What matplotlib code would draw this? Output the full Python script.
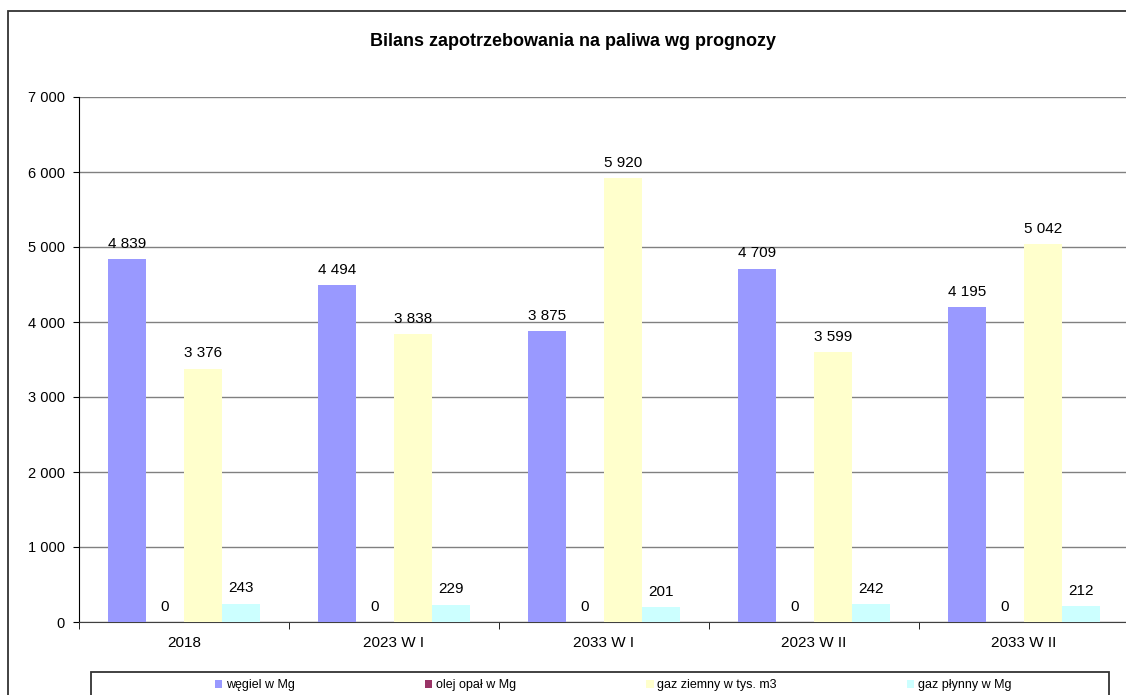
import numpy as np
import matplotlib.pyplot as plt
from matplotlib.patches import Rectangle
from matplotlib.ticker import FuncFormatter

plt.rcParams['font.family'] = ['Liberation Sans', 'DejaVu Sans']

# dane
kategorie = ['2018', '2023 W I', '2033 W I', '2023 W II', '2033 W II']
serie = ['węgiel w Mg', 'olej opał w Mg', 'gaz ziemny w tys. m3', 'gaz płynny w Mg']
wegiel = [4839, 4494, 3875, 4709, 4195]
olej = [0, 0, 0, 0, 0]
gaz_ziemny = [3376, 3838, 5920, 3599, 5042]
gaz_plynny = [243, 229, 201, 242, 212]
kolory = ['#9999FF', '#993366', '#FFFFCC', '#CCFFFF']

def fmt(v, pos=None):
    return f'{int(v):,}'.replace(',', ' ')

fig = plt.figure(figsize=(11.26, 6.95), dpi=100)
ax = fig.add_axes([79/1126, 1-622/695, 1050/1126, 525/695])

x = np.arange(len(kategorie))
w = 0.182
for i, (dane, nazwa, kol) in enumerate(zip([wegiel, olej, gaz_ziemny, gaz_plynny], serie, kolory)):
    b = ax.bar(x + (i - 1.5)*w, dane, w, color=kol, label=nazwa, zorder=3)
    ax.bar_label(b, labels=[fmt(v) for v in dane], padding=6, fontsize=11)

ax.set_xlim(-0.5, 4.5)
ax.set_ylim(0, 7000)
ax.set_yticks(range(0, 7001, 1000))
ax.yaxis.set_major_formatter(FuncFormatter(fmt))
ax.set_xticks(x)
ax.set_xticklabels(kategorie)
ax.set_xticks(np.arange(-0.5, 5, 1), minor=True)
ax.tick_params(axis='x', which='major', length=0, pad=10, labelsize=11)
ax.tick_params(axis='x', which='minor', length=5, direction='out', color='black')
ax.tick_params(axis='y', length=4, direction='out', pad=6, labelsize=10.5)
ax.grid(axis='y', color='#808080', linewidth=1, zorder=0)
for s in ['top', 'right']:
    ax.spines[s].set_visible(False)
ax.spines['left'].set_color('black')
ax.spines['bottom'].set_color('#404040')

fig.text(573/1126, 1-42/695, 'Bilans zapotrzebowania na paliwa wg prognozy',
         ha='center', va='center', fontsize=13, fontweight='bold')

# ramki
fig.patches.append(Rectangle((8/1126, -0.05), 1.2, 1-11/695+0.05, transform=fig.transFigure,
                             fill=False, edgecolor='#333333', linewidth=1.3))
fig.patches.append(Rectangle((91/1126, -0.05), (1109-91)/1126, 1-672/695+0.05, transform=fig.transFigure,
                             fill=False, edgecolor='#333333', linewidth=1.3))

fig.legend(loc='center', bbox_to_anchor=(613/1126, 1-685/695), ncol=4, frameon=False,
           fontsize=9, handlelength=0.6, handleheight=0.6, handletextpad=0.3,
           columnspacing=10.4, borderpad=0)

fig.savefig('out.png', dpi=100)
